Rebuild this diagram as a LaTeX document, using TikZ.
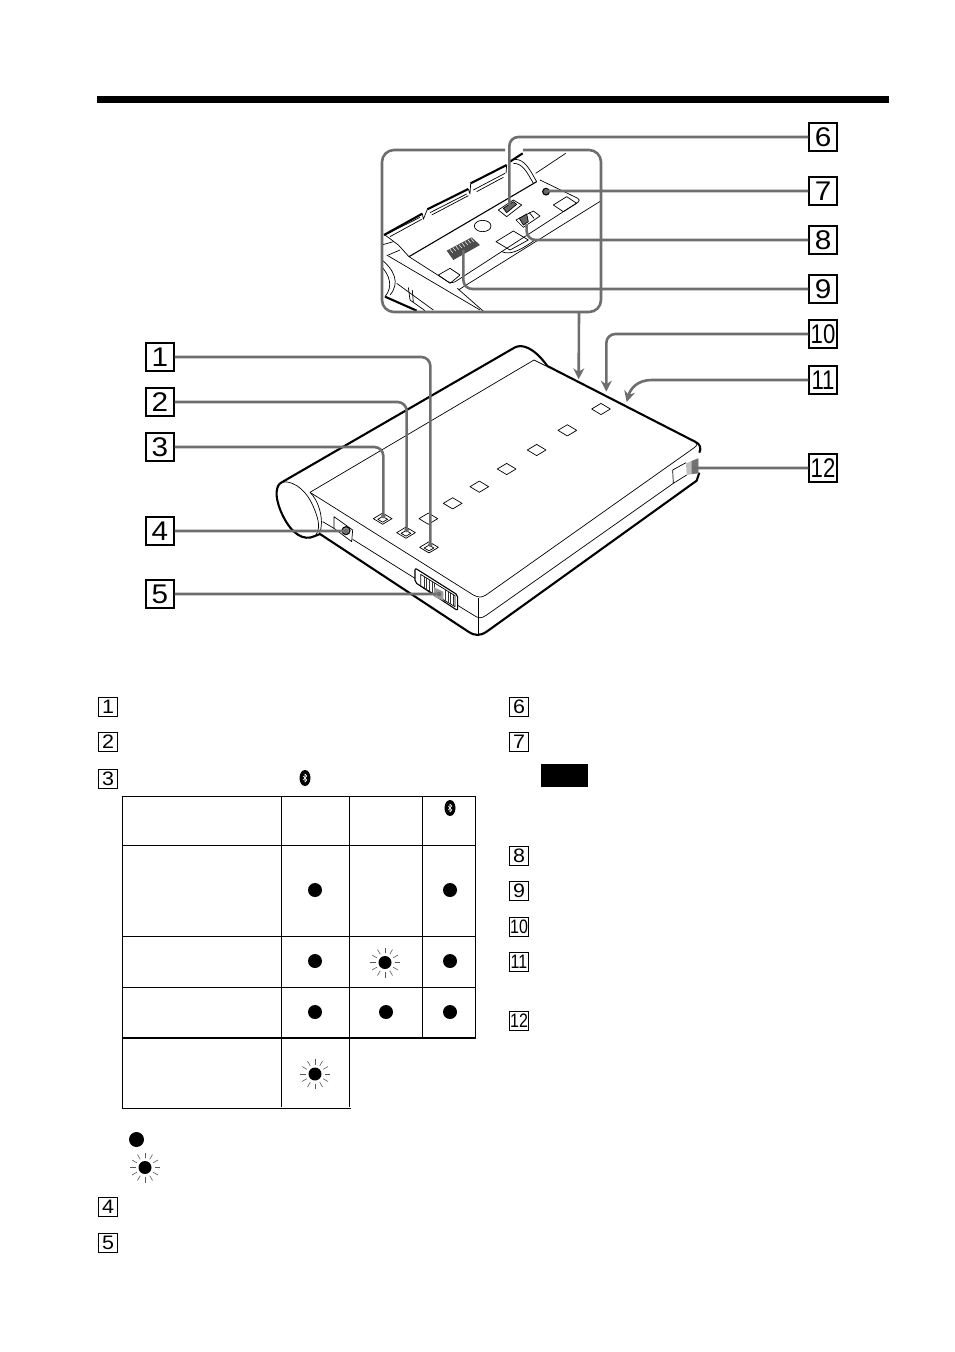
\documentclass[tikz,border=0pt]{standalone}
\usepackage{fontspec, graphicx}
\setmainfont{Liberation Sans}
\usetikzlibrary{arrows.meta, shapes.geometric}
\definecolor{leadgray}{HTML}{6E6E6E}
\newcommand{\widen}[1]{\scalebox{1.1}[1]{#1}}
\newcommand{\squeeze}[1]{\scalebox{0.82}[1]{#1}}
% rays round a blinking lamp
\newcommand{\blinkrays}[1]{\foreach \a in {0,30,...,330} \draw[rayline] (#1) ++(\a:9.5) -- ++(\a:5.5);}
% white rune on the oval mark
\newcommand{\btrune}[1]{\draw[white, line width=0.6pt, line join=round] ([shift={(-2,-2)}]#1.center) -- ++(4,4) -- ++(-2,2) -- ++(0,-8) -- ++(2,2) -- ++(-4,4);}
\tikzset{
  numbig/.style={draw, line width=1.2pt, minimum size=28, inner sep=0, font=\fontsize{27}{27}\selectfont},
  numsmall/.style={draw, line width=0.9pt, minimum size=18.5, inner sep=0, font=\fontsize{19.5}{20}\selectfont},
  lead/.style={draw=leadgray, line width=2.6pt, rounded corners=9},
  leadtip/.style={lead, -{Stealth[length=11pt, width=11pt]}},
  leadend/.style={circle, fill=leadgray, inner sep=0, minimum size=4.5},
  thickline/.style={line width=2.1pt, line join=round},
  midline/.style={line width=1.1pt, line join=round},
  thinline/.style={line width=0.7pt, line join=round},
  keybox/.style={draw, thinline, diamond, aspect=1.65, minimum width=19, minimum height=11.5, inner sep=0},
  keyinner/.style={draw, thinline, diamond, aspect=1.65, minimum width=10, minimum height=6, inner sep=0},
  ledon/.style={circle, fill=black, inner sep=0, minimum size=14},
  ledblink/.style={circle, fill=black, inner sep=0, minimum size=13},
  rayline/.style={draw=black!65, line width=0.6pt},
  btoval/.style={ellipse, fill=black, inner sep=0, minimum width=11, minimum height=16},
  gridline/.style={line width=1pt}
}
\begin{document}
\begin{tikzpicture}[x=1pt, y=-1pt]
\useasboundingbox (0,0) rectangle (954,1352);
\fill (97,96) rectangle (889,103);

% close-up of the underside
\begin{scope}
\clip[rounded corners=12] (382,150) rectangle (601,312);
\begin{scope}[shift={(370,120)}, scale=1/3]
% flange
\draw[thickline] (42,345) -- (157,281);
\draw[thickline] (172,268) -- (295,207);
\draw[thickline] (302,190) -- (410,135) (420,125) -- (458,100);
\draw[thinline] (157,281) -- (160,298) -- (172,268);
\draw[thinline] (295,207) -- (300,222) -- (302,190);
\draw[thinline] (410,135) -- (408,160);
\draw[thinline] (55,340) -- (150,292) (60,350) -- (155,298);
\draw[thinline] (180,278) -- (290,222) (185,285) -- (295,227);
\draw[thinline] (310,210) -- (405,160) (320,215) -- (400,172);
\draw[thinline] (45,345) -- (85,375) -- (117,410);
% plate
\draw[midline] (117,410) -- (500,185);
\draw[thinline] (435,118) .. controls (465,118) and (480,150) .. (500,185);
\draw[thinline] (430,130) .. controls (458,130) and (470,155) .. (490,190);
\draw[thinline] (497,160) -- (587,100);
\draw[thinline, rounded corners=4] (510,180) -- (634,240) -- (245,492) -- (117,410);
\draw[thinline, rounded corners=6] (268,508) -- (692,243) (262,505) -- (345,578);
\draw[thinline] (395,395) .. controls (420,405) and (445,395) .. (495,360);
% openings in the plate
\draw[thinline] (550,255) -- (590,230) -- (620,250) -- (580,275) -- cycle;
\draw[thinline] (378,365) -- (430,333) -- (475,360) -- (420,390) -- cycle;
\draw[thinline] (205,465) -- (240,445) -- (270,465) -- (240,490) -- cycle;
\draw[thinline] (338,318) ellipse [x radius=25, y radius=17];
\draw[midline, fill=black!60] (528,215) circle [radius=10];
\draw[thinline] (385,270) -- (430,240) -- (455,255) -- (410,290) -- cycle;
\draw[thinline, fill=black!60] (400,265) -- (430,245) -- (440,253) -- (410,278) -- cycle;
\draw[thinline] (438,300) -- (490,273) -- (510,288) -- (460,322) -- cycle;
\draw[thinline, fill=black!60] (448,295) -- (470,282) -- (475,305) -- (460,315) -- cycle;
\draw[thinline] (478,278) -- (492,295);
\fill[black!70] (230,392) -- (305,352) -- (330,375) -- (250,420) -- cycle;
\foreach \s in {0,1,...,8} \draw[white, line width=0.5pt] (240+\s*9,388-\s*4.7) -- +(8,10);
% end of the roller
\draw[thinline] (30,415) .. controls (75,450) and (90,490) .. (60,525);
\draw[thinline] (30,435) .. controls (60,465) and (70,500) .. (45,530);
\draw[thinline] (35,375) -- (70,365) (55,405) -- (90,390);
\draw[thinline] (50,405) -- (330,570) (80,490) -- (190,570);
\draw[thickline] (45,530) -- (140,572);
\draw[thinline] (115,502) -- (120,540) -- (165,572) (127,510) -- (130,547);
\coordinate (portF) at (418,255);
\coordinate (portG) at (528,213);
\coordinate (portH) at (470,312);
\coordinate (portI) at (280,390);
\end{scope}
\end{scope}
\draw[lead, rounded corners=12] (523,150) -- (601,150) -- (601,312) -- (382,312) -- (382,150) -- (505,150);

% main unit
\begin{scope}[shift={(260,330)}, scale=1/3]
\draw[thickline] (60,460) -- (765,52) .. controls (785,42) and (820,50) .. (862,108) -- (1305,335) .. controls (1322,343) and (1324,355) .. (1318,368);
\draw[thickline] (1318,428) -- (1310,452) -- (680,905) .. controls (660,918) and (645,918) .. (625,905) -- (180,612);
\draw[thickline] (60,460) .. controls (45,475) and (45,510) .. (70,560) .. controls (95,610) and (130,635) .. (165,618) -- (180,612);
\draw[thinline] (60,460) .. controls (85,445) and (135,470) .. (160,530) .. controls (180,575) and (180,600) .. (165,618);
\draw[thinline] (150,487) .. controls (175,510) and (195,570) .. (178,612);
\draw[thinline] (150,487) -- (822,90) -- (858,108);
\draw[thinline] (150,487) -- (640,795) .. controls (655,803) and (665,803) .. (678,795) -- (1300,355) .. controls (1315,345) and (1312,340) .. (1305,335);
\draw[thinline] (188,575) -- (222,595) (278,628) -- (465,745) (593,826) -- (640,855) .. controls (655,866) and (665,866) .. (680,855) -- (1240,460);
\draw[thinline] (655,805) -- (655,915);
% jack on the end
\draw[thinline] (222,560) -- (278,600) -- (275,635) -- (222,595) -- cycle;
\draw[midline, fill=black!45] (258,602) circle [radius=12];
% power switch
\draw[midline, fill=white, rounded corners=2] (465,714) -- (593,795) -- (593,842) -- (465,757) -- cycle;
\draw[thinline] (482,733) -- (585,797) -- (585,830) -- (482,768) -- cycle;
\foreach \s in {492,500,508,516,524,556,564,572,580} \draw[thinline, draw=black!80] (\s,{733+(\s-482)*0.62}) -- (\s,{768+(\s-482)*0.6});
\fill[black!40] (522,772) -- (550,785) -- (550,812) -- (522,800) -- cycle;
% plug at the far side
\draw[thinline] (1238,420) -- (1240,460) -- (1280,435) (1238,420) -- (1278,398);
\fill[black!25] (1278,400) -- (1315,385) -- (1315,430) -- (1280,435) -- cycle;
\fill[black!55] (1295,393) -- (1315,385) -- (1315,430) -- (1295,432) -- cycle;
% keys along the top
\node[keybox] (keyE) at (1023,237) {};
\node[keybox] (keyF) at (922,301) {};
\node[keybox] (keyG) at (830,360) {};
\node[keybox] (keyH) at (740,417) {};
\node[keybox] (keyI) at (658,470) {};
\node[keybox] (keyJ) at (578,520) {};
\node[keybox] (keyK) at (505,566) {};
\node[keybox] (keyC) at (368,566) {};
\node[keybox] (keyB) at (438,608) {};
\node[keybox] (keyA) at (507,652) {};
\node[keyinner] (innerC) at (368,568) {};
\node[keyinner] (innerB) at (438,610) {};
\node[keyinner] (innerA) at (507,654) {};
\node[leadend] (dotA) at (511,644) {};
\node[leadend] (dotB) at (440,600) {};
\node[leadend] (dotC) at (370,558) {};
\node[leadend] (dotD) at (258,603) {};
\node[leadend] (dotE) at (537,792) {};
\node[leadend] (dotL) at (1303,414) {};
\coordinate (arrowJ) at (956,148);
\coordinate (arrowK) at (1039,185);
\coordinate (arrowM) at (1100,216);
\end{scope}

% numbers round the drawing
\node[numbig] (numA) at (160,357) {\widen{1}};
\node[numbig] (numB) at (160,402) {\widen{2}};
\node[numbig] (numC) at (160,447) {\widen{3}};
\node[numbig] (numD) at (160,531) {\widen{4}};
\node[numbig] (numE) at (160,594) {\widen{5}};
\node[numbig] (numF) at (823,137) {\widen{6}};
\node[numbig] (numG) at (823,191) {\widen{7}};
\node[numbig] (numH) at (823,240) {\widen{8}};
\node[numbig] (numI) at (823,289) {\widen{9}};
\node[numbig] (numJ) at (823,334) {\squeeze{10}};
\node[numbig] (numK) at (823,380) {\squeeze{11}};
\node[numbig] (numL) at (823,468) {\squeeze{12}};

% leaders
\draw[lead] (numA.east) -| (dotA);
\draw[lead] (numB.east) -| (dotB);
\draw[lead] (numC.east) -| (dotC);
\draw[lead] (numD.east) -- (dotD);
\draw[lead] (numE.east) -- (dotE);
\draw[lead] (numF.west) -| (portF);
\draw[lead] (numG.west) -- (portG);
\draw[lead] (numH.west) -| (portH);
\draw[lead] (numI.west) -| (portI);
\draw[lead] (numL.west) -- (dotL);
\draw[leadtip] (579,312) -- (arrowJ);
\draw[leadtip] (numJ.west) -| (arrowK);
\draw[leadtip, rounded corners=0] (numK.west) -- (652,380) .. controls (636,380) and (630,390) .. (arrowM);

% list on the left
\node[numsmall] (itemA) at (108,707) {\widen{1}};
\node[numsmall] (itemB) at (108,742) {\widen{2}};
\node[numsmall] (itemC) at (108,779) {\widen{3}};
\node[numsmall] (itemD) at (108,1207) {\widen{4}};
\node[numsmall] (itemE) at (108,1243) {\widen{5}};
% list on the right
\node[numsmall] (itemF) at (519,707) {\widen{6}};
\node[numsmall] (itemG) at (519,742) {\widen{7}};
\node[numsmall] (itemH) at (519,856) {\widen{8}};
\node[numsmall] (itemI) at (519,891) {\widen{9}};
\node[numsmall] (itemJ) at (519,927) {\squeeze{10}};
\node[numsmall] (itemK) at (519,962) {\squeeze{11}};
\node[numsmall] (itemL) at (519,1021) {\squeeze{12}};
\fill (541,764) rectangle (588,787);

\node[btoval] (btText) at (305,778) {};
\btrune{btText}

% lamp table
\draw[gridline] (122.5,796) -- (475.5,796) (122.5,845) -- (475.5,845) (122.5,936) -- (475.5,936) (122.5,987) -- (475.5,987);
\draw[line width=1.6pt] (122.5,1038) -- (475.5,1038);
\draw[gridline] (122.5,1108.5) -- (351,1108.5);
\draw[gridline] (122.5,796) -- (122.5,1108.5);
\draw[gridline] (281.5,796) -- (281.5,1107) (349.5,796) -- (349.5,1107);
\draw[gridline] (422.5,796) -- (422.5,1038) (475.5,796) -- (475.5,1039);

\node[btoval] (btHead) at (450,808) {};
\btrune{btHead}
\node[ledon] (ledA) at (315,890) {};
\node[ledon] (ledB) at (450,890) {};
\node[ledon] (ledC) at (315,961) {};
\node[ledblink] (ledD) at (385,962.5) {};
\blinkrays{ledD}
\node[ledon] (ledE) at (450,961) {};
\node[ledon] (ledF) at (315,1012) {};
\node[ledon] (ledG) at (386,1012) {};
\node[ledon] (ledH) at (450,1012) {};
\node[ledblink] (ledI) at (315,1074) {};
\blinkrays{ledI}
\node[ledon, minimum size=15] (keyOn) at (136.5,1139.5) {};
\node[ledblink] (keyBlink) at (145,1167.5) {};
\blinkrays{keyBlink}
\end{tikzpicture}
\end{document}
